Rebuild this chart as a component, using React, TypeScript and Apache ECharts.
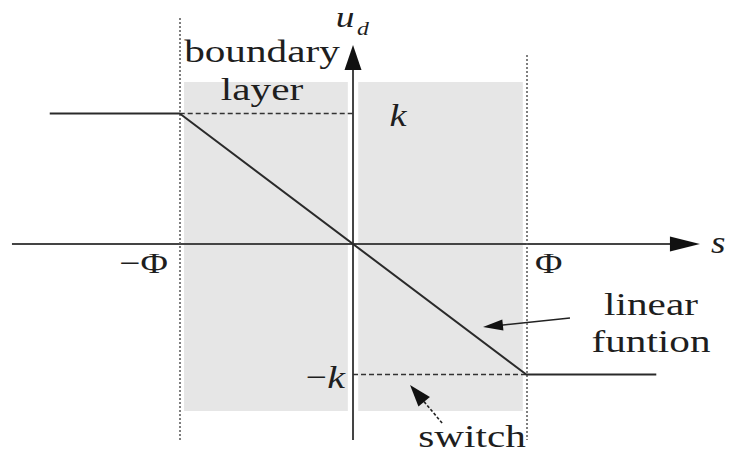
import React, { useEffect, useRef } from "react";
import * as echarts from "echarts";

// Diagram units: Φ = 1 (boundary layer half width), k = 1 (switching gain)
const PHI = 1;
const K = 1;

// saturation function u_d(s)
const satS = [-1.75, -PHI, PHI, 1.75];
const satU = [K, K, -K, -K];

// shaded boundary layer (split by the u_d axis)
const layerS = [
  [-0.975, -0.03],
  [0.03, 0.98],
];
const layerU = [-1.28, 1.241];

// dotted boundary lines: s position, top, bottom
const boundaryS = [-PHI, PHI];
const boundaryTop = [1.732, 1.448];
const boundaryBottom = -1.502;

// arrows: [tailS, tailU, tipS, tipU]
const sAxisArrow = [-1.968, 0, 2.002, 0];
const uAxisArrow = [0, -1.502, 0, 1.525];
const linearArrow = [1.252, -0.567, 0.75, -0.636];
const switchArrow = [0.514, -1.372, 0.329, -1.08];

// view extents
const X_MIN = -2.037;
const X_MAX = 2.1696;
const Y_MIN = -1.5939;
const Y_MAX = 1.8697;

const SERIF = "Liberation Serif";
const INK = "#1e1e1e";

export default function App() {
  const ref = useRef<HTMLDivElement>(null);

  useEffect(() => {
    document.body.style.margin = "0";
    if (!ref.current) return;
    const chart = echarts.init(ref.current, undefined, { renderer: "svg" });

    const dashed = { color: "#333", width: 1.3, type: [5, 3] as any };
    const dotted = { color: "#555", width: 1.5, type: [2, 2] as any };

    const markLines: any[] = [];
    boundaryS.forEach((s, i) => {
      markLines.push([
        { coord: [s, boundaryTop[i]], lineStyle: dotted },
        { coord: [s, boundaryBottom] },
      ]);
    });
    markLines.push([
      { coord: [-PHI, K], lineStyle: dashed },
      { coord: [0, K] },
    ]);
    markLines.push([
      { coord: [0, -K], lineStyle: dashed },
      { coord: [PHI, -K] },
    ]);

    // arrow drawing styles (pixels): head length, head width, shaft width, colour, dash
    const arrowStyles = [
      { len: 30, w: 15, lw: 2, color: "#444", dash: null },
      { len: 25, w: 17, lw: 2, color: "#444", dash: null },
      { len: 20, w: 11, lw: 1.5, color: "#222", dash: null },
      { len: 22, w: 15, lw: 1.6, color: "#222", dash: [3, 2] },
    ];
    const arrowData = [sAxisArrow, uAxisArrow, linearArrow, switchArrow];

    const renderArrow = (params: any, api: any) => {
      const st = arrowStyles[params.dataIndex];
      const p0 = api.coord([api.value(0), api.value(1)]);
      const p1 = api.coord([api.value(2), api.value(3)]);
      const dx = p1[0] - p0[0];
      const dy = p1[1] - p0[1];
      const L = Math.sqrt(dx * dx + dy * dy) || 1;
      const ux = dx / L;
      const uy = dy / L;
      const bx = p1[0] - ux * st.len;
      const by = p1[1] - uy * st.len;
      const nx = -uy * (st.w / 2);
      const ny = ux * (st.w / 2);
      return {
        type: "group",
        children: [
          {
            type: "line",
            shape: { x1: p0[0], y1: p0[1], x2: bx + ux * 2, y2: by + uy * 2 },
            style: { stroke: st.color, lineWidth: st.lw, lineDash: st.dash || undefined, fill: null },
          },
          {
            type: "polygon",
            shape: { points: [[p1[0], p1[1]], [bx + nx, by + ny], [bx - nx, by - ny]] },
            style: { fill: "#111", stroke: null },
          },
        ],
      };
    };

    const txt = (
      text: string,
      x: number,
      y: number,
      opts: { size?: number; italic?: boolean; align?: string; sx?: number } = {}
    ) => ({
      type: "text",
      x,
      y,
      scaleX: opts.sx ?? 1.33,
      silent: true,
      z: 100,
      style: {
        text,
        fill: INK,
        fontFamily: SERIF,
        fontSize: opts.size ?? 31,
        fontStyle: opts.italic ? "italic" : "normal",
        textAlign: opts.align ?? "center",
        textVerticalAlign: "middle",
      },
    });

    chart.setOption({
      animation: false,
      backgroundColor: "#fff",
      grid: { left: 0, right: 0, top: 0, bottom: 0 },
      xAxis: { type: "value", min: X_MIN, max: X_MAX, show: false },
      yAxis: { type: "value", min: Y_MIN, max: Y_MAX, show: false },
      series: [
        {
          type: "line",
          name: "layer",
          data: [],
          silent: true,
          z: 1,
          markArea: {
            silent: true,
            itemStyle: { color: "#e6e6e6" },
            data: layerS.map((r) => [
              { coord: [r[0], layerU[1]] },
              { coord: [r[1], layerU[0]] },
            ]),
          },
        },
        {
          type: "line",
          name: "guides",
          data: [],
          silent: true,
          z: 3,
          markLine: {
            silent: true,
            symbol: "none",
            label: { show: false },
            emphasis: { disabled: true },
            data: markLines,
          },
        },
        {
          type: "custom",
          name: "arrows",
          coordinateSystem: "cartesian2d",
          silent: true,
          clip: false,
          z: 4,
          encode: { x: [0, 2], y: [1, 3] },
          data: arrowData,
          renderItem: renderArrow,
        },
        {
          type: "line",
          name: "saturation",
          data: satS.map((s, i) => [s, satU[i]]),
          symbol: "none",
          silent: true,
          z: 5,
          lineStyle: { color: "#2a2a2a", width: 2 },
        },
      ],
      graphic: [
        txt("boundary", 262, 51.5),
        txt("layer", 262, 89.5),
        txt("u", 345, 17, { italic: true, size: 30, sx: 1.25 }),
        txt("d", 363, 28.5, { italic: true, size: 19, sx: 1.25 }),
        txt("k", 398, 116, { italic: true, size: 32, sx: 1.2 }),
        {
          type: "text",
          x: 345,
          y: 377,
          scaleX: 1.25,
          silent: true,
          z: 100,
          style: {
            text: "{a|−}{b|k}",
            textAlign: "right",
            textVerticalAlign: "middle",
            fill: INK,
            fontFamily: SERIF,
            fontSize: 31,
            rich: {
              a: { fontFamily: SERIF, fontSize: 30, fill: INK },
              b: { fontFamily: SERIF, fontSize: 32, fontStyle: "italic", fill: INK },
            },
          },
        },
        txt("s", 711, 242.5, { italic: true, size: 31, align: "left", sx: 1.2 }),
        txt("−Φ", 168, 262.5, { size: 30, align: "right", sx: 1.25 }),
        txt("Φ", 535, 262.5, { size: 30, align: "left", sx: 1.25 }),
        txt("linear", 651, 304.5),
        txt("funtion", 651, 341.5),
        txt("switch", 472, 436.5),
      ],
    });

    return () => chart.dispose();
  }, []);

  return (
    <div
      ref={ref}
      style={{ position: "fixed", left: 0, top: 0, width: 729, height: 452 }}
    />
  );
}
